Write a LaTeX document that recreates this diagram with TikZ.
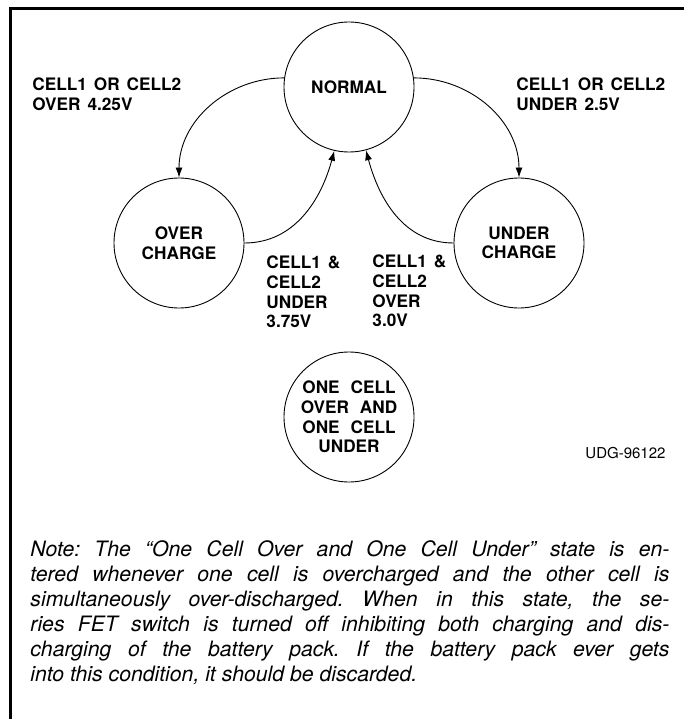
\documentclass[tikz,border=0pt]{standalone}
\usepackage{fontspec}
\setmainfont{TeX Gyre Heros}
\usepackage{tikz}
\usetikzlibrary{arrows.meta,calc,positioning}
\newcommand{\capsize}{\bfseries\fontsize{17.2}{19.6}\selectfont\spaceskip=7pt\relax}
\newcommand{\widesize}{\capsize\spaceskip=11pt\relax}
\frenchspacing

\tikzset{
  state/.style={circle,draw,line width=0.9pt,minimum size=130pt,inner sep=0pt,
    align=center,font=\capsize},
  cond/.style={anchor=west,inner sep=0pt,align=left,font=\capsize},
}

\begin{document}
\begin{tikzpicture}[x=1pt,y=1pt,line width=0.9pt,>={Latex[length=10pt,width=7pt]}]
\newcommand*{\ha}{170}; \newcommand*{\va}{156}; \newcommand*{\vb}{174};
\useasboundingbox (0,0) rectangle (684,-719);
% frame
\draw[line width=2.5pt] (10.5,-719) |- (684,-8.5);
% states
\node[state] (no) at (349,-87) {NORMAL};
\node[state] (oc) at (349-\ha,-87-\va) {OVER\\CHARGE};
\node[state] (uc) at (349+\ha,-87-\va) {UNDER\\CHARGE};
\node[state,font=\widesize] (ou) at (349,-87-\va-\vb) {ONE CELL\\OVER AND\\ONE CELL\\UNDER};
% conditions
\node[cond] (over) at (32,-94) {CELL1 OR CELL2\\OVER 4.25V};
\node[cond] (under) at (516,-94) {CELL1 OR CELL2\\UNDER 2.5V};
\node[cond] (back1) at (266,-292) {CELL1 \&\\CELL2\\UNDER\\3.75V};
\node[cond] (back2) at (372,-291) {CELL1 \&\\CELL2\\OVER\\3.0V};
\draw[->] (no.172) to[out=180,in=90] (oc.north);
\draw[->] (no.8) to[out=0,in=90] (uc.north);
\draw[->] (oc.east) to[out=0,in=255] (no.257);
\draw[->] (uc.west) to[out=180,in=285] (no.285);
\node[anchor=west,inner sep=0pt,font=\fontsize{15}{18}\selectfont] (udg) at (585,-453) {UDG-96122};
% note
\node[anchor=north west,inner sep=0pt,text width=639pt,align=justify,
  font=\itshape\fontsize{21.2}{25}\selectfont] (note) at (30,-540)
  {Note: The “One Cell Over and One Cell Under” state is en-\linebreak
  tered whenever one cell is overcharged and the other cell is\linebreak
  simultaneously over-discharged. When in this state, the se-\linebreak
  ries FET switch is turned off inhibiting both charging and dis-\linebreak
  charging of the battery pack. If the battery pack ever gets\linebreak
  into this condition, it should be discarded.};
\end{tikzpicture}
\end{document}
